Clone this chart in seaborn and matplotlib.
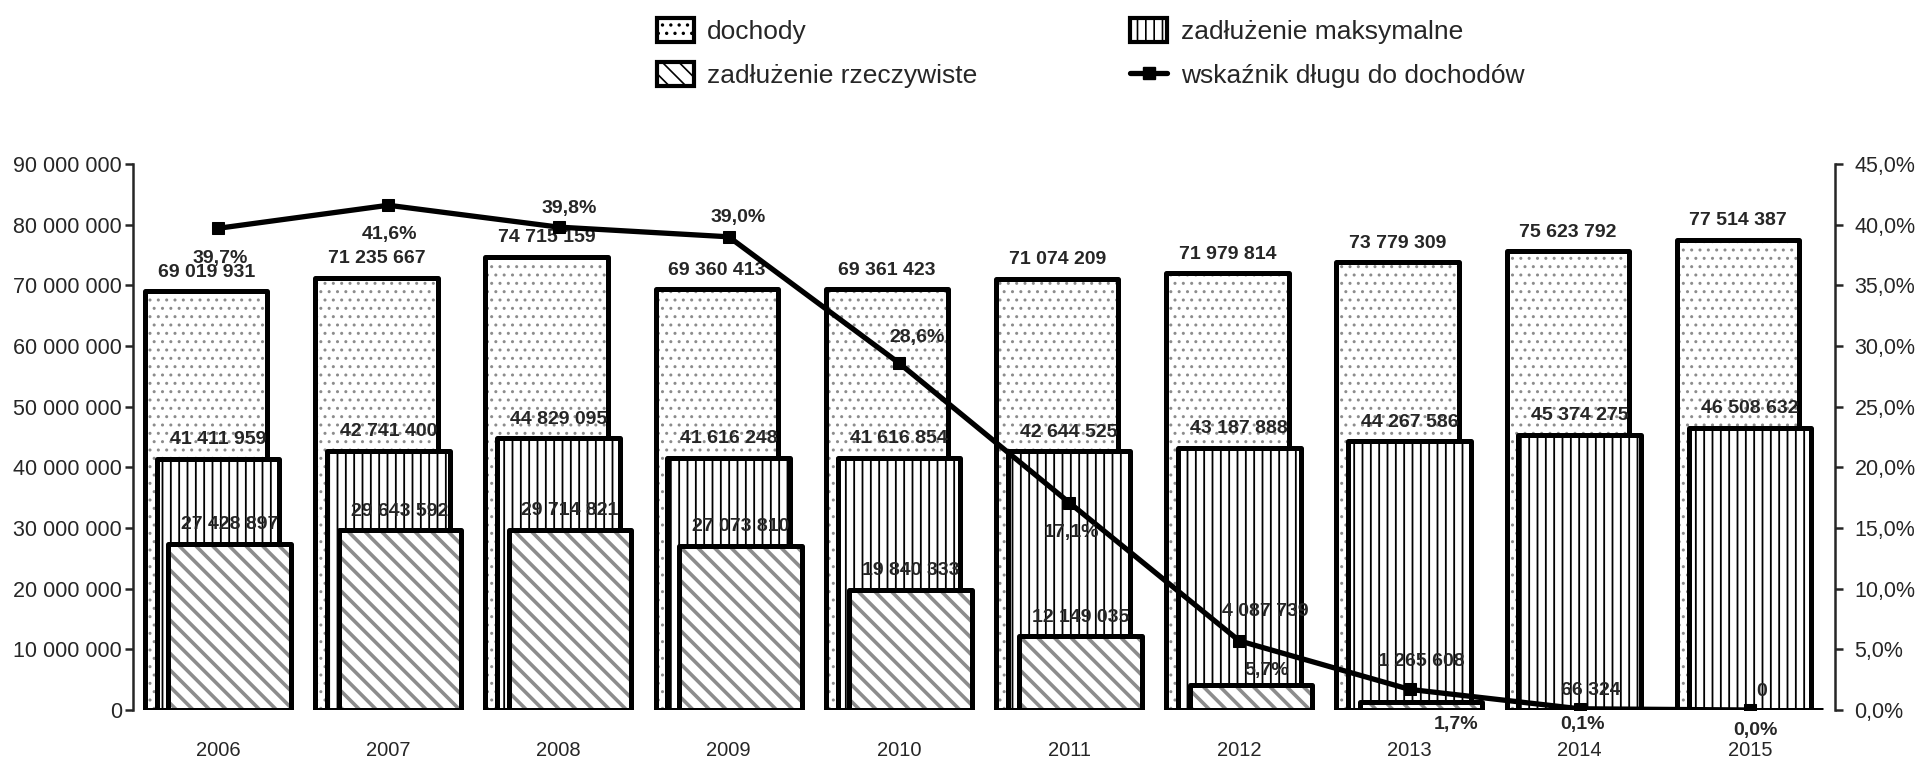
import numpy as np
import pandas as pd
import seaborn as sns
import matplotlib.pyplot as plt
from matplotlib.patches import Patch
from matplotlib.lines import Line2D
from matplotlib.ticker import FuncFormatter, MultipleLocator

# dane
years = [2006, 2007, 2008, 2009, 2010, 2011, 2012, 2013, 2014, 2015]
dochody = [69019931, 71235667, 74715159, 69360413, 69361423,
           71074209, 71979814, 73779309, 75623792, 77514387]
zadl_maks = [41411959, 42741400, 44829095, 41616248, 41616854,
             42644525, 43187888, 44267586, 45374275, 46508632]
zadl_rzecz = [27428897, 29643592, 29714821, 27073810, 19840333,
              12149035, 4087739, 1265608, 66324, 0]
wskaznik = [39.7, 41.6, 39.8, 39.0, 28.6, 17.1, 5.7, 1.7, 0.1, 0.0]

sns.set_style("white")
plt.rcParams["font.family"] = ["Liberation Sans", "DejaVu Sans"]

fig = plt.figure(figsize=(19.17, 7.62), dpi=100)
ax = fig.add_axes([133 / 1917, 52 / 762, (1835 - 133) / 1917, (710 - 164) / 762])
ax2 = ax.twinx()

idx = np.arange(len(years))
W = 0.72


def bars(offset, values, hatch, hcolor, hlw):
    # warstwa z wypelnieniem
    plt.rcParams["hatch.linewidth"] = hlw
    n0 = len(ax.patches)
    sns.barplot(x=idx + offset, y=values, native_scale=True, width=W, ax=ax,
                color="white", saturation=1, edgecolor=hcolor, hatch=hatch,
                linewidth=0, errorbar=None)
    for p in ax.patches[n0:]:
        p.set_facecolor("white")
        p.set_edgecolor(hcolor)
        if hasattr(p, "set_hatch_linewidth"):
            p.set_hatch_linewidth(hlw)
    # obramowanie
    n1 = len(ax.patches)
    sns.barplot(x=idx + offset, y=values, native_scale=True, width=W, ax=ax,
                color="white", saturation=1, linewidth=3.6, errorbar=None)
    for p in ax.patches[n1:]:
        p.set_facecolor("none")
        p.set_edgecolor("black")
        p.set_joinstyle("round")
    return ax.patches[n0:n1]


b_doch = bars(-0.07, dochody, "..", "#8c8c8c", 1.0)
b_maks = bars(0.0, zadl_maks, "||", "black", 1.3)
b_rzecz = bars(0.068, zadl_rzecz, "\\\\", "#8c8c8c", 2.6)

fmt_num = lambda v: f"{v:,}".replace(",", " ")

label_font = dict(fontsize=14, fontweight="bold", ha="center", va="center")
for off, vals, extra in [(-0.07, dochody, [0] * 10),
                         (0.0, zadl_maks, [0] * 10),
                         (0.068, zadl_rzecz, [0, 0, 0, 0, 0, 0, 55, 22, 0, 0])]:
    for i, v in enumerate(vals):
        dx = 14 if (vals is zadl_rzecz and i == 6) else 0
        ax.annotate(fmt_num(v), (i + off, v), xytext=(dx, 19 + extra[i]),
                    textcoords="offset pixels", **label_font)

ax.set_xlim(-0.5, len(years) - 0.5)
ax.set_ylim(0, 90_000_000)
ax.yaxis.set_major_locator(MultipleLocator(10_000_000))
ax.yaxis.set_major_formatter(FuncFormatter(lambda v, p: fmt_num(int(v))))
ax.set_xticks(idx)
ax.set_xticklabels([str(y) for y in years])
ax.tick_params(axis="x", length=0, labelsize=14.5, pad=22)
ax.tick_params(axis="y", length=6, width=1.8, labelsize=15.5, pad=2, direction="out")
for s in ["top", "bottom", "right"]:
    ax.spines[s].set_visible(False)
ax.spines["left"].set_linewidth(1.8)

# wskaznik na drugiej osi
sns.lineplot(x=idx, y=wskaznik, ax=ax2, color="black", linewidth=3.8,
             marker="s", markersize=9, markeredgecolor="black")
ax2.set_ylim(0, 45)
ax2.yaxis.set_major_locator(MultipleLocator(5))
ax2.yaxis.set_major_formatter(FuncFormatter(lambda v, p: f"{v:.1f}%".replace(".", ",")))
ax2.tick_params(axis="y", length=6, width=1.8, labelsize=15.5, pad=8, direction="out")
for s in ["top", "bottom", "left"]:
    ax2.spines[s].set_visible(False)
ax2.spines["right"].set_linewidth(1.8)
ax2.set_xlim(-0.5, len(years) - 0.5)

pct_off = [(2, -30), (1, -29), (11, 19), (9, 19), (18, 25),
           (2, -30), (27, -30), (47, -35), (3, -16), (6, -20)]
for i, v in enumerate(wskaznik):
    ax2.annotate(f"{v:.1f}%".replace(".", ","), (i, v), xytext=pct_off[i],
                 textcoords="offset pixels", **label_font)

# legenda
plt.rcParams["hatch.linewidth"] = 1.2
handles = [
    Patch(facecolor="white", edgecolor="black", hatch="..", linewidth=3),
    Patch(facecolor="white", edgecolor="black", hatch="\\\\", linewidth=3),
    Patch(facecolor="white", edgecolor="black", hatch="||", linewidth=3),
    Line2D([], [], color="black", linewidth=3.8, marker="s", markersize=9),
]
labels = ["dochody", "zadłużenie rzeczywiste", "zadłużenie maksymalne",
          "wskaźnik długu do dochodów"]
fig.legend(handles, labels, ncol=2, frameon=False, loc="upper left",
           bbox_to_anchor=(657 / 1917, 1 - 18 / 762), prop={"size": 19},
           handlelength=1.4, handleheight=1.0, handletextpad=0.5,
           columnspacing=5.8, labelspacing=0.7, borderaxespad=0, borderpad=0)

fig.savefig("out.png", dpi=100)
